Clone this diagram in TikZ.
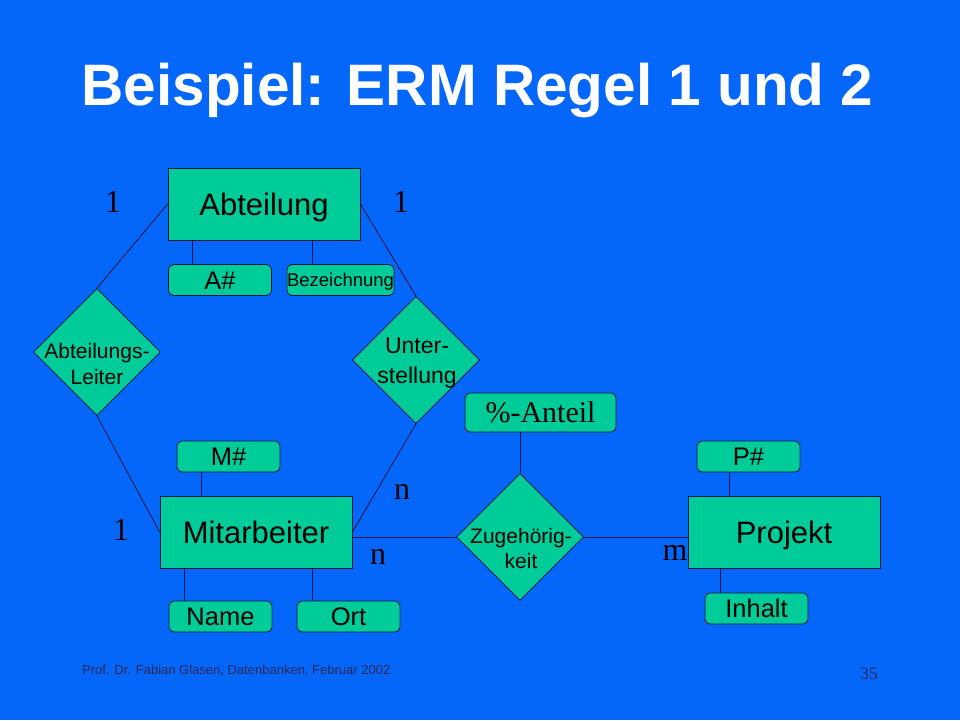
\documentclass[tikz,border=0pt]{standalone}
\usepackage{fontspec}
\setmainfont{Liberation Sans}
\newfontfamily\seriffam{Liberation Serif}
\usetikzlibrary{shapes.geometric}
\definecolor{bgblue}{RGB}{5,102,250}
\definecolor{boxteal}{RGB}{0,204,153}
\definecolor{linec}{RGB}{10,20,60}
\definecolor{footc}{RGB}{40,40,90}
\tikzset{
  entity/.style={draw=linec, fill=boxteal, line width=0.8pt, minimum width=192pt, minimum height=72pt, inner sep=0pt, font=\fontsize{31}{36}\selectfont, text height=22pt, text depth=0pt},
  attr/.style={draw=linec, fill=boxteal, line width=0.8pt, rounded corners=5pt, minimum width=103pt, minimum height=31pt, inner sep=0pt, font=\fontsize{25.5}{30}\selectfont, text height=18.3pt, text depth=0pt},
  rel/.style={diamond, draw=linec, fill=boxteal, line width=0.8pt, inner sep=0pt, minimum width=127pt, minimum height=127pt},
  reltext/.style={inner sep=0pt, anchor=base, font=\fontsize{21}{25}\selectfont},
  card/.style={inner sep=0pt, font=\seriffam\fontsize{32}{36}\selectfont},
  conn/.style={draw=linec, line width=0.8pt},
}
\begin{document}
\begin{tikzpicture}[x=1pt,y=-1pt]
\useasboundingbox (0,0) rectangle (960,720);
\fill[bgblue] (0,0) rectangle (960,720);

% title
\node[anchor=base, inner sep=0pt, text=white, font=\bfseries\fontsize{58.5}{66}\selectfont] (title) at (477.5,105) {Beispiel: ERM Regel 1 und 2};

% connectors (drawn first, under the shapes)
\coordinate (leiterc) at (97,352);
\coordinate (unterc) at (416,360);
\coordinate (zugc) at (520,537);

% entities
\node[entity] (abt) at (264,204) {Abteilung};
\node[entity] (mit) at (256,532) {Mitarbeiter};
\node[entity] (proj) at (784,532.5) {Projekt};

% attributes
\node[attr] (anum) at (220,280) {A\#};
\node[attr, font=\fontsize{18.5}{22}\selectfont, text height=13.3pt] (bez) at (340.5,280) {Bezeichnung};
\node[attr] (mnum) at (228.5,456.5) {M\#};
\node[attr] (name) at (220.5,616.5) {Name};
\node[attr] (ort) at (348.5,616.5) {Ort};
\node[attr] (pnum) at (748.5,456.5) {P\#};
\node[attr] (inhalt) at (756.5,608.5) {Inhalt};
\node[attr, minimum width=151pt, minimum height=39pt, font=\seriffam\fontsize{30}{34}\selectfont, text height=19.9pt] (anteil) at (540.5,412.5) {\%-Anteil};

% relationships
\node[rel] (leiter) at (leiterc) {};
\node[rel] (unter) at (unterc) {};
\node[rel] (zug) at (zugc) {};
\node[reltext] (leiter1) at (97,358) {Abteilungs-};
\node[reltext] (leiter2) at (97,384) {Leiter};
\node[reltext, font=\fontsize{23}{27}\selectfont] (unter1) at (417,353) {Unter-};
\node[reltext, font=\fontsize{23}{27}\selectfont] (unter2) at (417,383) {stellung};
\node[reltext] (zug1) at (521,543) {Zugehörig-};
\node[reltext] (zug2) at (521,568) {keit};

% lines
\draw[conn] (abt.west) -- (leiter.north);
\draw[conn] (leiter.south) -- (mit.west);
\draw[conn] (abt.east) -- (unter.north);
\draw[conn] (unter.south) -- (mit.east);
\draw[conn] (zug.west) -- (zug.west -| mit.east);
\draw[conn] (zug.east) -- (zug.east -| proj.west);
\draw[conn] (anteil.south -| zug.north) -- (zug.north);
\draw[conn] (abt.south -| 192,0) -- (anum.north -| 192,0);
\draw[conn] (abt.south -| 312,0) -- (bez.north -| 312,0);
\draw[conn] (mnum.south -| 201,0) -- (mit.north -| 201,0);
\draw[conn] (mit.south -| 184,0) -- (name.north -| 184,0);
\draw[conn] (mit.south -| 312,0) -- (ort.north -| 312,0);
\draw[conn] (pnum.south -| 729,0) -- (proj.north -| 729,0);
\draw[conn] (proj.south -| 720,0) -- (inhalt.north -| 720,0);

% cardinalities
\node[card] (c1) at (113,202) {1};
\node[card] (c2) at (401,202) {1};
\node[card] (c3) at (121,530) {1};
\node[card] (c4) at (402,492) {n};
\node[card] (c5) at (378,557) {n};
\node[card] (c6) at (675,553) {m};

% footer
\node[anchor=base west, inner sep=0pt, text=footc, font=\fontsize{13}{16}\selectfont] (foot) at (82,674) {Prof. Dr. Fabian Glasen,\ Datenbanken,\ Februar 2002};
\node[anchor=base, inner sep=0pt, text=footc, font=\seriffam\fontsize{17.5}{20}\selectfont] (page) at (869,679) {35};
\end{tikzpicture}
\end{document}
